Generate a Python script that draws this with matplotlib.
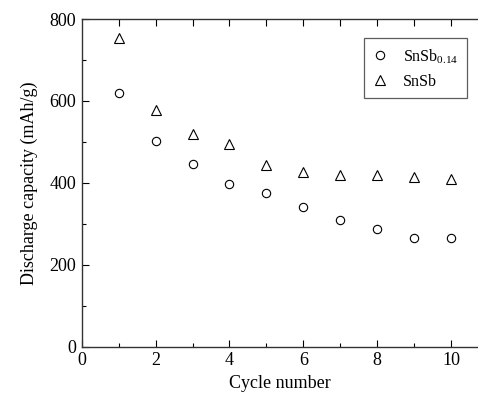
import numpy as np
import matplotlib
matplotlib.use("Agg")
import matplotlib.pyplot as plt

plt.rcParams["font.family"] = ["Liberation Serif", "DejaVu Serif"]
plt.rcParams["mathtext.fontset"] = "custom"
plt.rcParams["mathtext.rm"] = "Liberation Serif"

cycles = [1, 2, 3, 4, 5, 6, 7, 8, 9, 10]
snsb014 = [620, 503, 446, 398, 374, 340, 309, 288, 264, 264]
snsb = [753, 578, 519, 495, 444, 427, 419, 419, 415, 409]

fig = plt.figure(figsize=(4.78, 3.97), dpi=100)
ax = fig.add_axes([0.171, 0.127, 0.829, 0.825])

ax.plot(cycles, snsb014, linestyle="none", marker="o", markersize=6,
        markerfacecolor="none", markeredgecolor="black", markeredgewidth=0.8,
        label=r"SnSb$_{\mathrm{0.14}}$")
ax.plot(cycles, snsb, linestyle="none", marker="^", markersize=6.5,
        markerfacecolor="none", markeredgecolor="black", markeredgewidth=0.8,
        label="SnSb")

ax.set_xlim(0, 10.73)
ax.set_ylim(0, 800)
ax.set_xticks(np.arange(0, 11, 2))
ax.set_xticks(np.arange(1, 11, 2), minor=True)
ax.set_yticks(np.arange(0, 801, 200))
ax.set_yticks(np.arange(100, 800, 200), minor=True)
ax.tick_params(which="major", direction="in", length=5, width=0.8,
               labelsize=13, colors="black", pad=4)
ax.tick_params(which="minor", direction="in", length=3, width=0.8)
ax.spines["right"].set_visible(False)
for s in ("left", "bottom", "top"):
    ax.spines[s].set_linewidth(1.0)
    ax.spines[s].set_color("#333333")

# top axis: a tick at every cycle, no labels
top = ax.secondary_xaxis("top")
top.set_xticks(np.arange(1, 11))
top.tick_params(direction="in", length=5, width=0.8, labeltop=False)
top.spines["top"].set_visible(False)

ax.set_xlabel("Cycle number", fontsize=13, labelpad=4)
ax.set_ylabel("Discharge capacity (mAh/g)", fontsize=13, labelpad=8)

leg = ax.legend(loc="upper right", bbox_to_anchor=(0.972, 0.942), borderaxespad=0,
                fontsize=11.5, frameon=True, fancybox=False, handletextpad=0.9,
                borderpad=0.55, labelspacing=0.5, handlelength=1.0)
leg.get_frame().set_edgecolor("#333333")
leg.get_frame().set_linewidth(0.9)

fig.savefig("out.png", dpi=100)
